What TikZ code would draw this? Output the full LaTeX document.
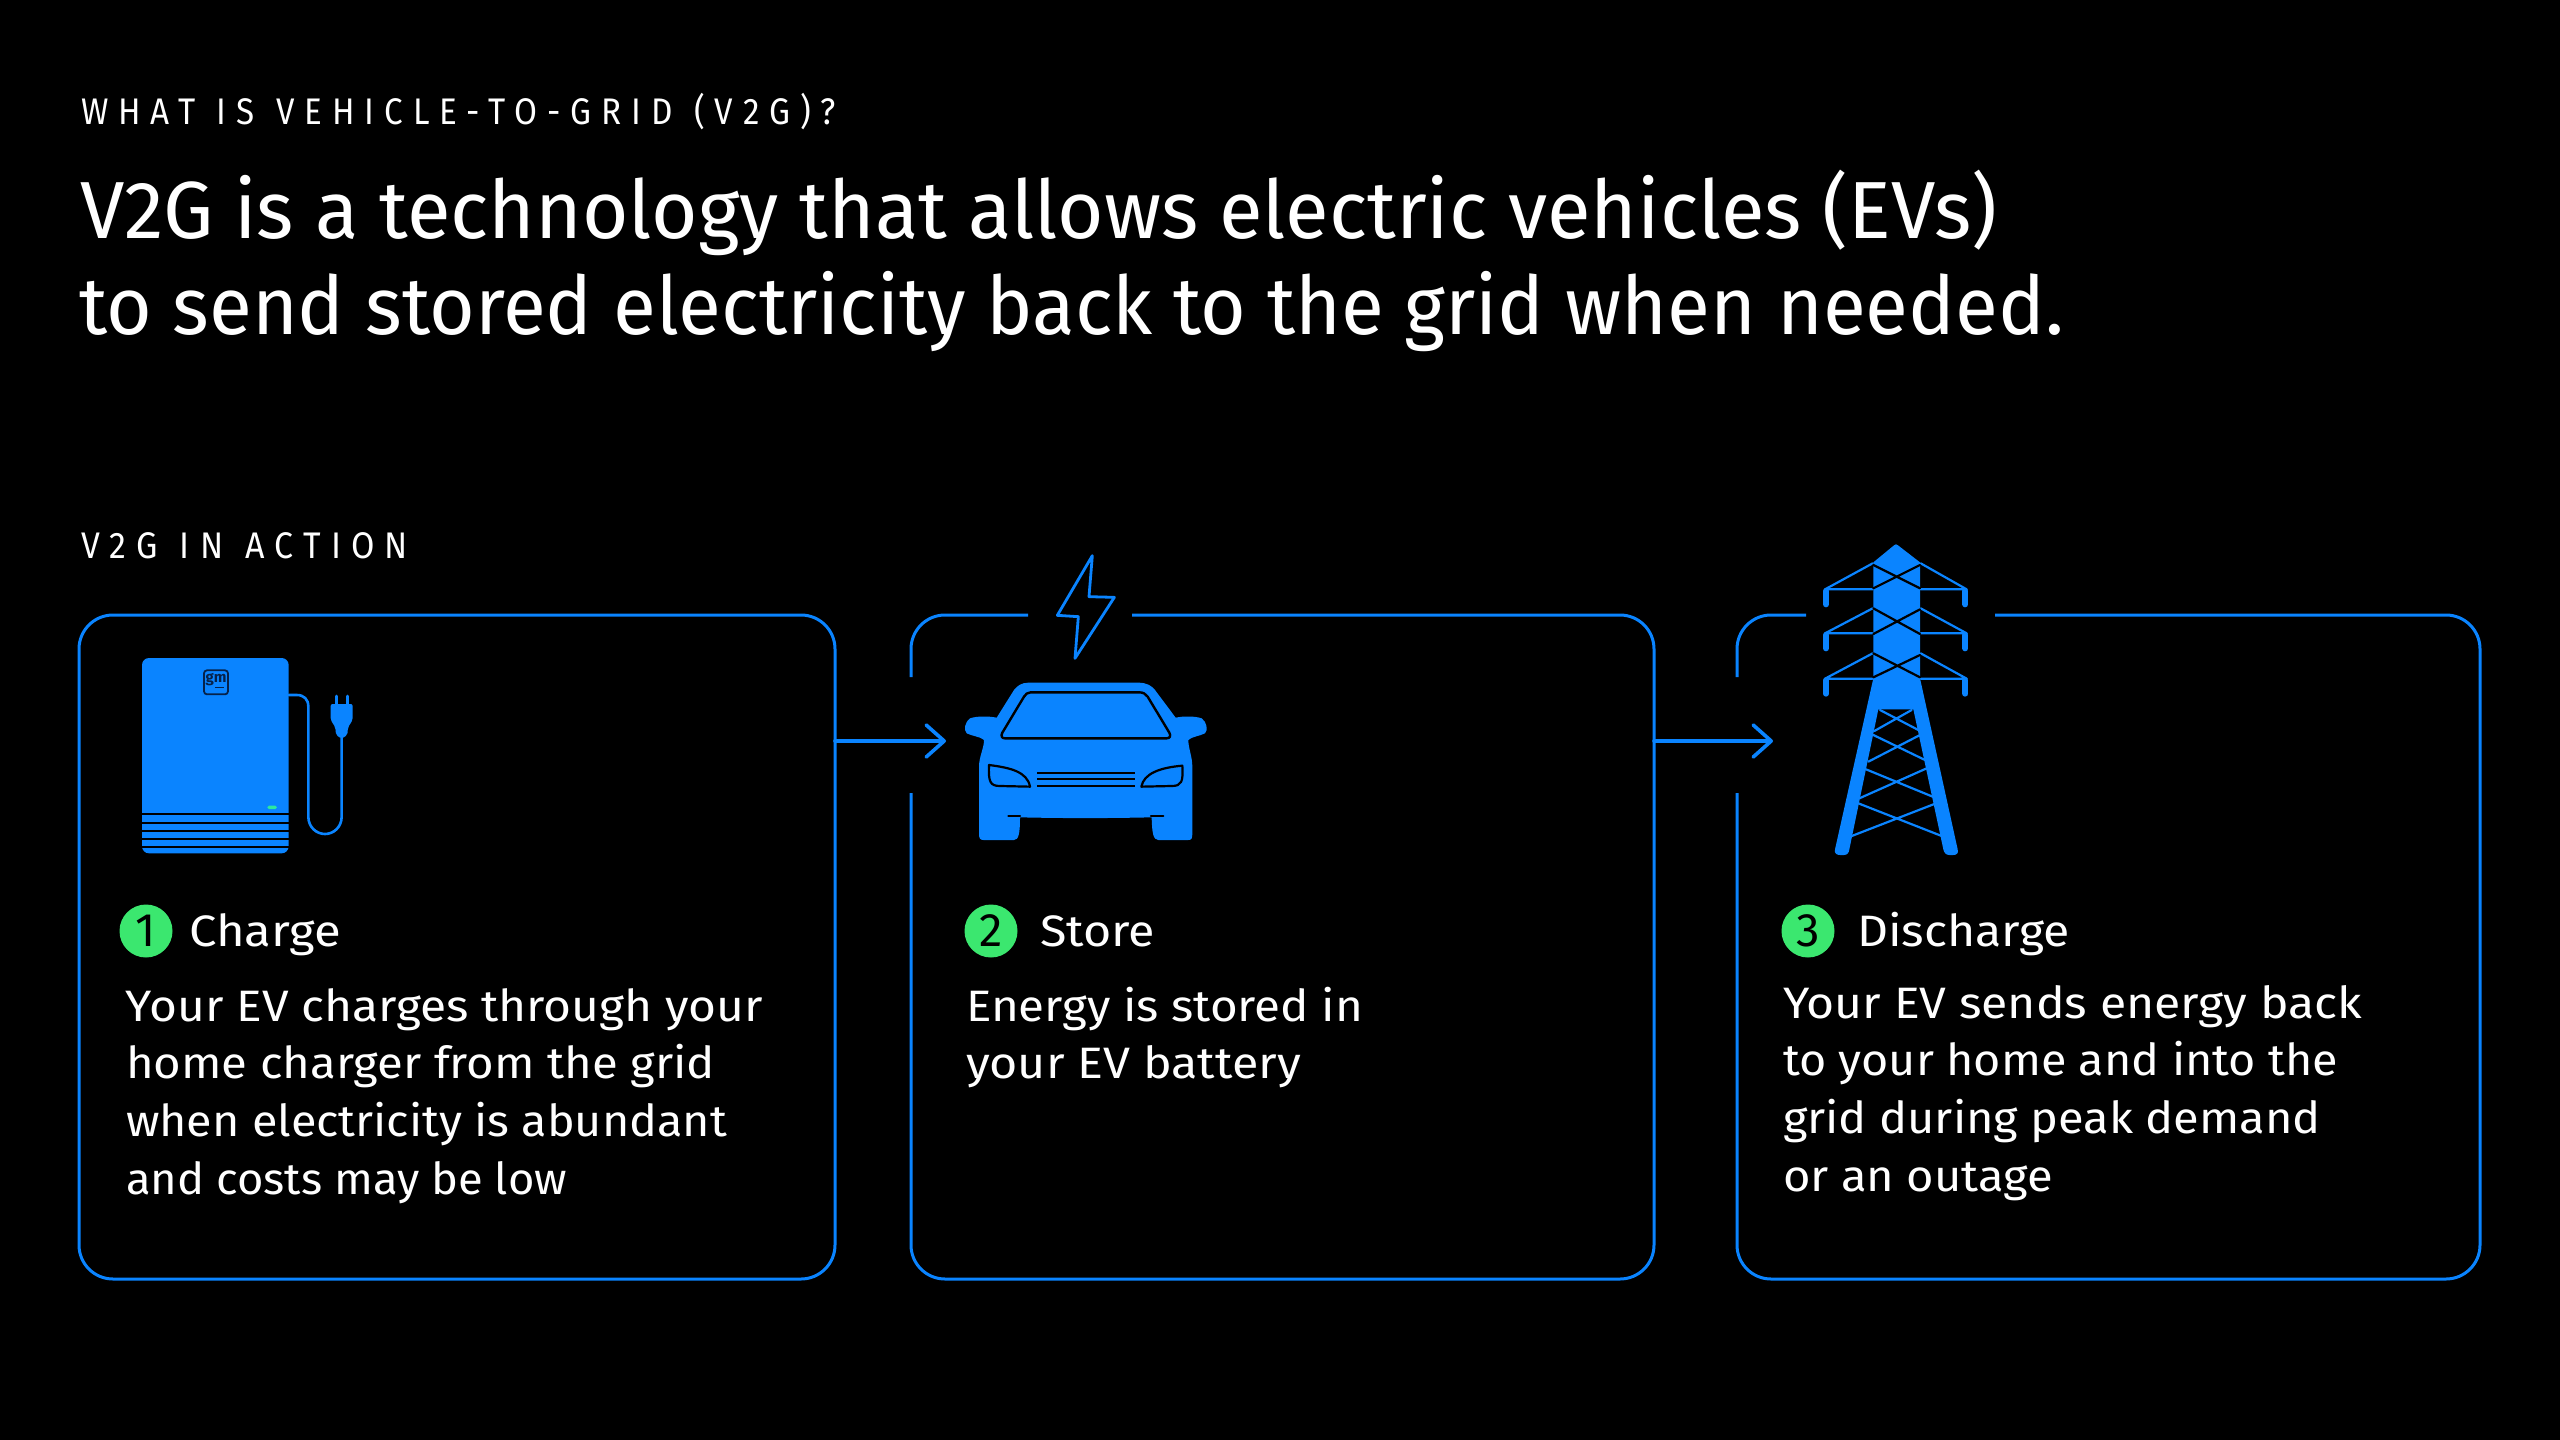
\documentclass[tikz,border=0pt]{standalone}
\usepackage{fontspec}
\usepackage{graphicx}
\usetikzlibrary{arrows.meta}
\setmainfont{Fira Sans}
\newfontfamily\trk[LetterSpace=30,WordSpace=1.15]{Fira Sans}
\definecolor{bluea}{HTML}{0A84FF}
\definecolor{greena}{HTML}{3BE76F}
\definecolor{leda}{HTML}{2CE8A0}
\definecolor{navya}{HTML}{06224A}
\newsavebox\fitbox
\newcommand\fitw[2]{\sbox\fitbox{#2}\pgfmathsetmacro\fitr{#1*0.5/\the\wd\fitbox}\scalebox{\fitr}[1]{\usebox\fitbox}}
\tikzset{
  txt/.style={anchor=base west,inner sep=0pt,outer sep=0pt,text=white},
  headline/.style={txt,font=\fontsize{40.5}{48}\selectfont},
  kicker/.style={txt,font=\trk\fontsize{18.5}{22}\selectfont},
  bodyline/.style={txt,font=\fontsize{22}{28}\selectfont},
  badge/.style={circle,fill=greena,text=black,minimum size=26.5pt,inner sep=0pt,font=\fontsize{23.5}{26}\selectfont},
  panel/.style={draw=bluea,line width=1.5pt,rounded corners=17pt,inner sep=0pt,outer sep=0pt},
  panelline/.style={draw=bluea,line width=1.5pt,rounded corners=17pt},
  flow/.style={draw=bluea,line width=1.8pt,line cap=round,-{Straight Barb[length=9pt,width=16pt,round]}},
  thinblue/.style={draw=bluea,line width=1.1pt,line cap=round,line join=round},
  cutline/.style={draw=black,line width=1.1pt,line cap=round,line join=round},
}
\begin{document}
\begin{tikzpicture}[x=0.5pt,y=-0.5pt]
\useasboundingbox (0,0) rectangle (2560,1440);
\fill[black] (0,0) rectangle (2560,1440);

% titles
\node[kicker] (kick) at (81,124) {\fitw{755}{WHAT IS VEHICLE-TO-GRID (V2G)?}};
\node[headline] (h1) at (80,238) {\fitw{1917}{V2G is a technology that allows electric vehicles (EVs)}};
\node[headline] (h2) at (79,334) {\fitw{1985}{to send stored electricity back to the grid when needed.}};
\node[kicker] (kick2) at (81,558) {\fitw{327}{V2G IN ACTION}};

% panels
\node[panel,minimum width=378pt,minimum height=332pt] (box1) at (457,947) {};
\coordinate (b2a) at (1028,615);
\coordinate (b2b) at (1132,615);
\coordinate (b2c) at (911,677);
\coordinate (b2d) at (911,793);
\draw[panelline] (b2c) -- (911,615) -- (b2a);
\draw[panelline] (b2b) -- (1654,615) -- (1654,1279) -- (911,1279) -- (b2d);
\coordinate (b3a) at (1806,615);
\coordinate (b3b) at (1995,615);
\coordinate (b3c) at (1737,677);
\coordinate (b3d) at (1737,793);
\draw[panelline] (b3c) -- (1737,615) -- (b3a);
\draw[panelline] (b3b) -- (2480,615) -- (2480,1279) -- (1737,1279) -- (b3d);

% arrows
\coordinate (tip1) at (946,741);
\coordinate (tip2) at (1773,741);
\coordinate (b2e) at (1654,741);
\draw[flow] (box1.east |- tip1) -- (tip1);
\draw[flow] (b2e) -- (tip2);

% step 1
\node[badge] (n1) at (146,931) {1};
\node[bodyline] (s1) at (189,946) {\fitw{152}{Charge}};
\node[bodyline] (t11) at (126,1021) {\fitw{637}{Your EV charges through your}};
\node[bodyline] (t12) at (126,1078) {\fitw{589}{home charger from the grid}};
\node[bodyline] (t13) at (126,1136) {\fitw{601}{when electricity is abundant}};
\node[bodyline] (t14) at (126,1194) {\fitw{441}{and costs may be low}};
% step 2
\node[badge] (n2) at (991,931) {2};
\node[bodyline] (s2) at (1040,946) {\fitw{115}{Store}};
\node[bodyline] (t21) at (966,1021) {\fitw{397}{Energy is stored in}};
\node[bodyline] (t22) at (966,1078) {\fitw{335}{your EV battery}};
% step 3
\node[badge] (n3) at (1808,931) {3};
\node[bodyline] (s3) at (1857,946) {\fitw{213}{Discharge}};
\node[bodyline] (t31) at (1783,1018) {\fitw{579}{Your EV sends energy back}};
\node[bodyline] (t32) at (1783,1075) {\fitw{555}{to your home and into the}};
\node[bodyline] (t33) at (1783,1133) {\fitw{538}{grid during peak demand}};
\node[bodyline] (t34) at (1783,1191) {\fitw{270}{or an outage}};

% charger
\begin{scope}[shift={(120,640)},scale=1/3]
  \draw[bluea,line width=1.3pt,line cap=round]
    (506,165) -- (530,165) .. controls (552,165) and (565,178) .. (565,200)
    -- (565,530) .. controls (565,562) and (590,582) .. (615,582)
    .. controls (640,582) and (665,562) .. (665,530) -- (665,280);
  \fill[bluea,rounded corners=3.5pt] (66,54) rectangle (506,640);
  \foreach \yy in {523,548,572,597,621}
    \draw[black,line width=1.1pt] (60,\yy) -- (512,\yy);
  \draw[navya,line width=0.9pt,rounded corners=1.5pt] (252,91) rectangle (324,163);
  \node[inner sep=0pt,text=navya,font=\bfseries\fontsize{7.5}{9}\selectfont] (gm) at (288,120) {gm};
  \draw[navya,line width=0.6pt] (286,143) -- (313,143);
  \fill[leda,rounded corners=0.8pt] (442,497) rectangle (471,507);
  \fill[bluea,rounded corners=1pt] (632,192) -- (698,192) -- (698,240) -- (684,262) -- (682,285) -- (665,296) -- (648,285) -- (646,262) -- (632,240) -- cycle;
  \draw[bluea,line width=1.4pt,line cap=round] (649,168) -- (649,195);
  \draw[bluea,line width=1.4pt,line cap=round] (682,168) -- (682,195);
\end{scope}

% bolt and car
\begin{scope}[shift={(940,540)},scale=1/3]
  \draw[thinblue,line width=1.4pt] (457,47) -- (447,170) -- (523,172) -- (405,355) -- (415,230) -- (352,226) -- cycle;
  \fill[bluea] (265,428) -- (595,428) .. controls (620,428) and (635,437) .. (645,450)
    -- (707,533) .. controls (730,528) and (765,528) .. (785,535)
    .. controls (800,545) and (805,570) .. (795,580)
    .. controls (780,588) and (755,590) .. (745,600)
    .. controls (745,625) and (757,650) .. (757,680)
    -- (757,880) .. controls (757,895) and (755,900) .. (745,900)
    -- (655,900) .. controls (640,900) and (636,880) .. (635,832)
    .. controls (500,835) and (370,835) .. (240,832)
    .. controls (240,880) and (236,900) .. (222,900)
    -- (130,900) .. controls (120,900) and (117,895) .. (117,880)
    -- (117,680) .. controls (117,650) and (132,625) .. (132,600)
    .. controls (122,590) and (95,588) .. (80,580)
    .. controls (70,570) and (75,545) .. (90,535)
    .. controls (110,528) and (145,528) .. (170,533)
    -- (222,450) .. controls (232,437) and (245,428) .. (265,428) -- cycle;
  \draw[cutline,line width=1.2pt] (272,457) -- (598,457) .. controls (610,457) and (617,462) .. (623,470)
    -- (688,578) .. controls (693,588) and (690,595) .. (680,595)
    -- (195,595) .. controls (185,595) and (182,588) .. (187,578)
    -- (252,470) .. controls (258,462) and (262,457) .. (272,457) -- cycle;
  \draw[cutline] (147,675) .. controls (210,683) and (262,695) .. (270,740)
    -- (180,738) .. controls (150,738) and (145,725) .. (147,675) -- cycle;
  \draw[cutline] (727,677) .. controls (660,683) and (612,700) .. (604,740)
    -- (695,738) .. controls (725,738) and (730,725) .. (727,677) -- cycle;
  \foreach \yy in {698,717,737}
    \draw[black,line width=1.1pt] (292,\yy) -- (585,\yy);
  \draw[cutline] (205,828) -- (240,828);
  \draw[cutline] (633,828) -- (670,828);
\end{scope}

% tower
\begin{scope}[shift={(1740,530)},scale=1/3]
  \fill[bluea] (400,97) -- (462,46) .. controls (466,42) and (470,42) .. (474,46) -- (540,97) -- (540,450) -- (400,450) -- cycle;
  \fill[bluea] (400,445) -- (285,958) .. controls (282,970) and (290,975) .. (300,975)
    -- (312,975) .. controls (322,975) and (327,968) .. (328,958)
    -- (415,538) -- (520,538) -- (610,958) .. controls (612,968) and (618,975) .. (628,975)
    -- (640,975) .. controls (650,975) and (656,970) .. (653,958) -- (540,445) -- cycle;
  \foreach \ya/\yb in {100/178,235/310,370/446}{
    \draw[thinblue] (398,\ya) -- (255,\yb) -- (398,\yb);
    \draw[thinblue] (542,\ya) -- (680,\yb) -- (542,\yb);
    \draw[bluea,line width=3pt,line cap=round] (258,\yb+5) -- (258,\yb+45);
    \draw[bluea,line width=3pt,line cap=round] (676,\yb+5) -- (676,\yb+45);
  }
  \draw[cutline] (400,105) -- (540,175) (540,105) -- (400,175);
  \draw[cutline] (400,235) -- (540,312) (540,238) -- (400,312);
  \draw[cutline] (400,370) -- (540,442) (540,375) -- (400,442);
  \draw[thinblue] (420,540) -- (535,600) (515,540) -- (403,603);
  \draw[thinblue] (400,615) -- (555,690) (540,615) -- (385,695);
  \draw[thinblue] (378,718) -- (578,800) (560,715) -- (358,805);
  \draw[thinblue] (355,820) -- (605,918) (583,822) -- (330,920);
\end{scope}
\end{tikzpicture}
\end{document}
